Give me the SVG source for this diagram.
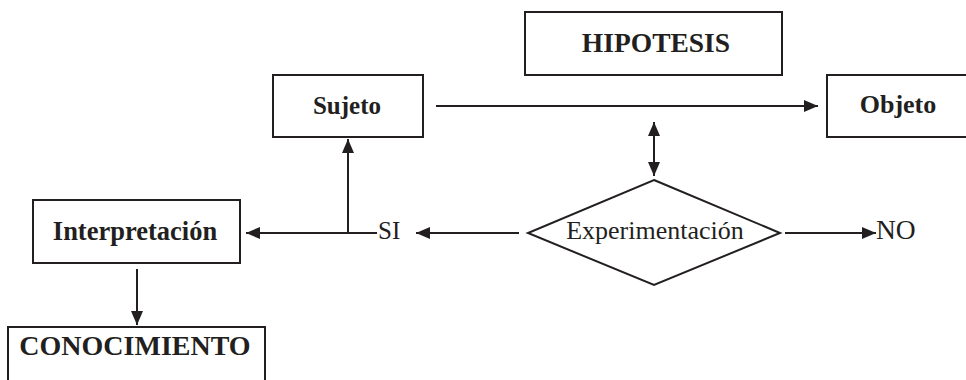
<svg xmlns="http://www.w3.org/2000/svg" width="966" height="380" viewBox="0 0 966 380">
<style>
.box{fill:#fff;stroke:#231f20;stroke-width:2}
.b{font-family:"Liberation Serif",serif;font-weight:bold;font-size:25px;fill:#231f20;text-anchor:middle}
.r{font-family:"Liberation Serif",serif;font-size:25px;fill:#231f20}
.c{stroke:#231f20;stroke-width:2;fill:none}
</style>
<defs>
<marker id="ah" markerUnits="userSpaceOnUse" markerWidth="16" markerHeight="14" refX="14" refY="7" orient="auto-start-reverse">
<path d="M0,1 L14,7 L0,13 z" fill="#231f20"/>
</marker>
</defs>
<rect width="966" height="380" fill="#fff"/>
<g id="connectors">
<line class="c" x1="436" y1="106" x2="818" y2="106" marker-end="url(#ah)"/>
<line class="c" x1="654" y1="122" x2="654" y2="176" marker-start="url(#ah)" marker-end="url(#ah)"/>
<line class="c" x1="519" y1="233" x2="416" y2="233" marker-end="url(#ah)"/>
<line class="c" x1="377" y1="233" x2="246" y2="233" marker-end="url(#ah)"/>
<line class="c" x1="348" y1="233" x2="348" y2="139" marker-end="url(#ah)"/>
<line class="c" x1="785" y1="233" x2="876" y2="233" marker-end="url(#ah)"/>
<line class="c" x1="137" y1="269" x2="137" y2="325" marker-end="url(#ah)"/>
</g>
<g id="hipotesis">
<rect class="box" x="525" y="12" width="257" height="63"/>
<text class="b" x="656" y="52" style="font-size:27.5px">HIPOTESIS</text>
</g>
<g id="sujeto">
<rect class="box" x="273" y="75" width="150" height="62"/>
<text class="b" x="347" y="114">Sujeto</text>
</g>
<g id="objeto">
<rect class="box" x="827" y="75" width="150" height="62"/>
<text class="b" x="898" y="113" style="font-size:26px">Objeto</text>
</g>
<g id="experimentacion">
<polygon class="box" points="654,180 780,233 654,285 528,233"/>
<text class="r" x="655" y="239" text-anchor="middle" style="font-size:26px">Experimentación</text>
</g>
<g id="si">
<text class="r" x="378" y="239">SI</text>
</g>
<g id="no">
<text class="r" x="876" y="239" style="font-size:27.5px">NO</text>
</g>
<g id="interpretacion">
<rect class="box" x="33" y="200" width="207" height="63"/>
<text class="b" x="135" y="240" style="font-size:26.5px">Interpretación</text>
</g>
<g id="conocimiento">
<rect class="box" x="8" y="327" width="257" height="70"/>
<text class="b" x="135" y="355" style="font-size:28px">CONOCIMIENTO</text>
</g>
</svg>
